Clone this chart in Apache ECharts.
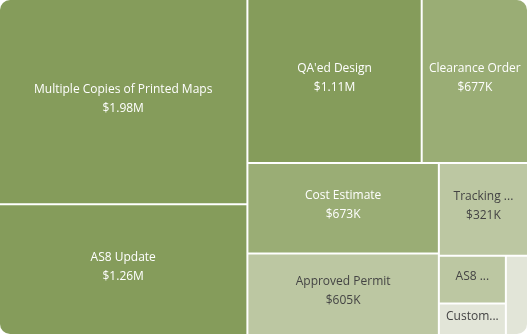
<!DOCTYPE html>
<html>
<head>
<meta charset="utf-8">
<script src="https://cdn.jsdelivr.net/npm/echarts@6/dist/echarts.min.js"></script>
<style>
  html, body { margin: 0; padding: 0; background: #fff; }
  #chart { width: 527px; height: 334px; border-radius: 10px; overflow: hidden; }
</style>
</head>
<body>
<div id="chart"></div>
<script>
// task names (as labelled in the source) and cost per task (USD)
var names = ['Multiple Copies of Printed Maps', 'AS8 Update', "QA'ed Design", 'Clearance Order',
    'Cost Estimate', 'Approved Permit', 'Tracking ...', 'AS8 ...', 'Custom...', ''];
var costs = [1980000, 1260000, 1110000, 677000, 673000, 605000, 321000, 124000, 82000, 68000];
var colors = ['#859c5b', '#859c5b', '#859c5b', '#9aad75', '#9aad75', '#bcc7a2', '#bcc7a2', '#bcc7a2', '#e2e5d8', '#e2e5d8'];

function money(v) {
    if (v >= 1e6) return '$' + (v / 1e6).toFixed(2) + 'M';
    return '$' + Math.round(v / 1e3) + 'K';
}

var chart = echarts.init(document.getElementById('chart'));

var data = names.map(function (n, i) {
    var dark = i < 5;
    return {
        name: n,
        value: costs[i],
        itemStyle: { color: colors[i] },
        label: { color: dark ? '#ffffff' : '#444444', show: n !== '' }
    };
});

chart.setOption({
    series: [{
        type: 'treemap',
        left: 0, top: 0, right: 0, bottom: 0,
        width: '100%', height: '100%',
        roam: false,
        nodeClick: false,
        breadcrumb: { show: false },
        sort: false,
        data: data,
        levels: [{
            itemStyle: { gapWidth: 2, borderWidth: 0, borderColor: '#ffffff' }
        }],
        label: {
            show: true,
            position: 'inside',
            align: 'center',
            verticalAlign: 'middle',
            fontFamily: 'Open Sans',
            fontSize: 12,
            lineHeight: 19,
            overflow: 'truncate',
            ellipsis: '...',
            offset: [0, -3],
            formatter: function (p) {
                if (p.value < 200000) return p.name;
                return p.name + '\n' + money(p.value);
            }
        },
        upperLabel: { show: false }
    }]
});
</script>
</body>
</html>
